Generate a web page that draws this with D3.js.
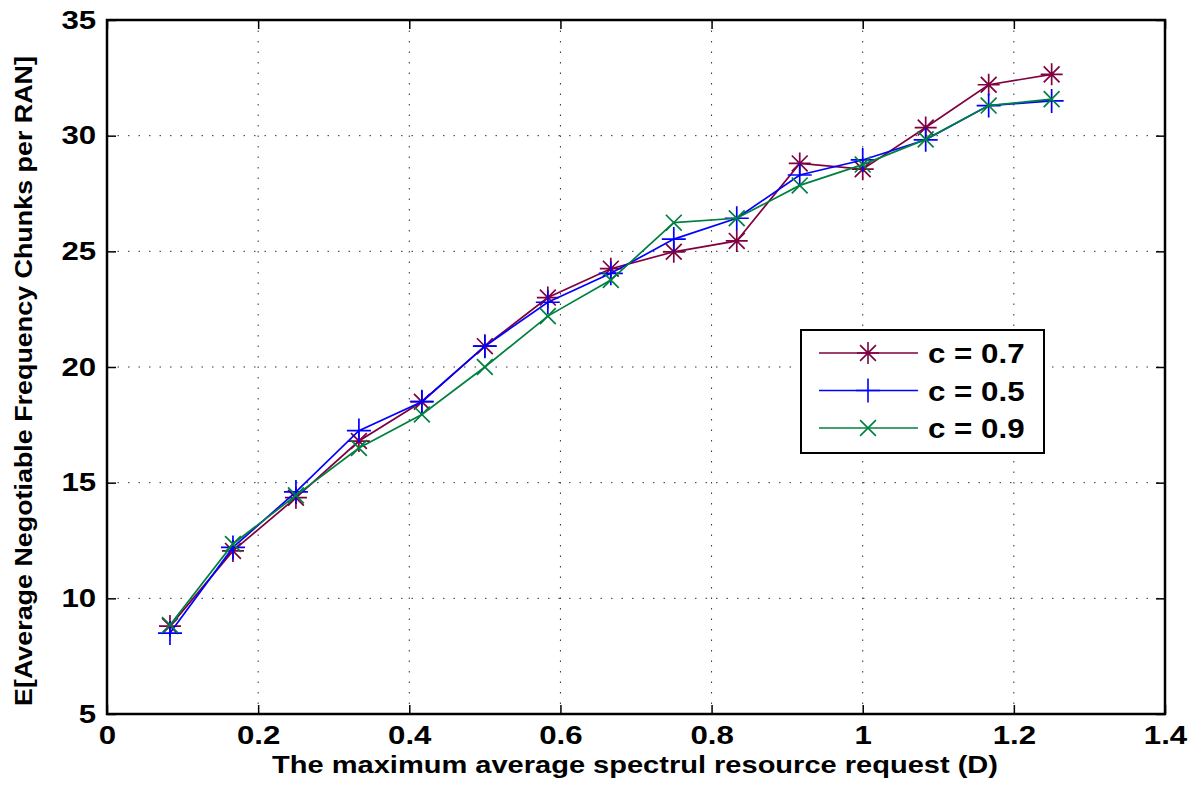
<!DOCTYPE html>
<html>
<head>
<meta charset="utf-8">
<script src="https://cdn.jsdelivr.net/npm/d3@7"></script>
<style>
  body { margin: 0; background: #fff; }
  svg { display: block; font-family: "Liberation Sans", Arial, sans-serif; }
</style>
</head>
<body>
<svg width="1191" height="786"></svg>
<script>
// data
const xVals = [1/12, 2/12, 3/12, 4/12, 5/12, 6/12, 7/12, 8/12, 9/12, 10/12, 11/12, 1, 13/12, 14/12, 15/12];
const c07 = [8.8, 12.05, 14.35, 16.8, 18.5, 20.9, 23.0, 24.25, 24.98, 25.45, 28.8, 28.55, 30.35, 32.2, 32.65];
const c05 = [8.5, 12.2, 14.6, 17.25, 18.5, 20.9, 22.8, 24.05, 25.53, 26.43, 28.3, 28.95, 29.82, 31.3, 31.5];
const c09 = [8.85, 12.35, 14.45, 16.5, 17.95, 20.0, 22.2, 23.76, 26.24, 26.43, 27.85, 28.75, 29.84, 31.3, 31.58];
const xTicks = [0, 0.2, 0.4, 0.6, 0.8, 1, 1.2, 1.4];
const yTicks = [5, 10, 15, 20, 25, 30, 35];

const series = [
  { name: "c = 0.7", values: c07, color: "#800040", marker: "star" },
  { name: "c = 0.5", values: c05, color: "#0000ff", marker: "plus" },
  { name: "c = 0.9", values: c09, color: "#008040", marker: "cross" }
];

const svg = d3.select("svg");
const pLeft = 107, pRight = 1165, pTop = 20, pBottom = 714;
const stretch = 1.2; // the original text looks widened

const x = d3.scaleLinear().domain([0, 1.4]).range([pLeft, pRight]);
const y = d3.scaleLinear().domain([5, 35]).range([pBottom, pTop]);

// grid
const grid = svg.append("g").attr("stroke", "#333").attr("stroke-width", 1)
  .attr("stroke-dasharray", "1.5,9");
grid.selectAll(".gx").data(xTicks.slice(1, -1)).enter().append("line")
  .attr("x1", d => x(d)).attr("x2", d => x(d)).attr("y1", pTop).attr("y2", pBottom);
grid.selectAll(".gy").data(yTicks.slice(1, -1)).enter().append("line")
  .attr("y1", d => y(d)).attr("y2", d => y(d)).attr("x1", pLeft).attr("x2", pRight);

// axes with inward ticks
const tickLen = 9;
const axisBottom = d3.axisBottom(x).tickValues(xTicks).tickSize(-tickLen).tickPadding(12)
  .tickFormat(d => d3.format("~g")(d));
const axisLeft = d3.axisLeft(y).tickValues(yTicks).tickSize(-tickLen).tickPadding(9);

const gx = svg.append("g").attr("transform", `translate(0,${pBottom})`).call(axisBottom);
const gy = svg.append("g").attr("transform", `translate(${pLeft},0)`).call(axisLeft);
svg.append("g").attr("transform", `translate(0,${pTop})`)
  .call(d3.axisTop(x).tickValues(xTicks).tickSize(-tickLen).tickFormat(""));
svg.append("g").attr("transform", `translate(${pRight},0)`)
  .call(d3.axisRight(y).tickValues(yTicks).tickSize(-tickLen).tickFormat(""));

svg.selectAll(".domain").remove();
svg.selectAll(".tick line").attr("stroke", "#000").attr("stroke-width", 1.5);
[gx, gy].forEach(g => g.selectAll("text")
  .attr("font-size", 26).attr("font-weight", "bold").attr("fill", "#000")
  .attr("font-family", "Liberation Sans, Arial, sans-serif")
  .attr("transform", `scale(${stretch},1)`));

svg.append("rect").attr("x", pLeft).attr("y", pTop)
  .attr("width", pRight - pLeft).attr("height", pBottom - pTop)
  .attr("fill", "none").attr("stroke", "#000").attr("stroke-width", 2.5);

// axis titles
svg.append("text").attr("transform", `translate(635,773) scale(1.21,1)`)
  .attr("text-anchor", "middle").attr("font-size", 24).attr("font-weight", "bold")
  .text("The maximum average spectrul resource request (D)");
svg.append("text").attr("transform", `translate(32,381) rotate(-90) scale(1.12,1)`)
  .attr("text-anchor", "middle").attr("font-size", 24).attr("font-weight", "bold")
  .text("E[Average Negotiable Frequency Chunks per RAN]");

// markers
function drawMarker(g, type, s) {
  const p = d3.path();
  if (type === "plus" || type === "star") {
    p.moveTo(-s, 0); p.lineTo(s, 0); p.moveTo(0, -s); p.lineTo(0, s);
  }
  if (type === "cross" || type === "star") {
    const k = s * 0.72;
    p.moveTo(-k, -k); p.lineTo(k, k); p.moveTo(-k, k); p.lineTo(k, -k);
  }
  g.append("path").attr("d", p.toString()).attr("fill", "none");
}
const markerSize = { star: 11, plus: 12, cross: 11 };

const line = d3.line().x((d, i) => x(xVals[i])).y(d => y(d));

series.forEach(s => {
  const g = svg.append("g").attr("stroke", s.color).attr("stroke-width", 1.7);
  g.append("path").datum(s.values).attr("d", line).attr("fill", "none");
  s.values.forEach((v, i) => {
    const m = g.append("g").attr("transform", `translate(${x(xVals[i])},${y(v)})`);
    drawMarker(m, s.marker, markerSize[s.marker]);
  });
});

// legend
const lg = svg.append("g");
lg.append("rect").attr("x", 801).attr("y", 330).attr("width", 243).attr("height", 123)
  .attr("fill", "#fff").attr("stroke", "#000").attr("stroke-width", 2);
series.forEach((s, i) => {
  const ly = 353 + i * 37.5;
  const g = lg.append("g").attr("stroke", s.color).attr("stroke-width", 1.6);
  g.append("line").attr("x1", 819).attr("x2", 918).attr("y1", ly).attr("y2", ly);
  drawMarker(g.append("g").attr("transform", `translate(868,${ly})`), s.marker, markerSize[s.marker]);
  lg.append("text").attr("transform", `translate(928,${ly + 10}) scale(1.16,1)`)
    .attr("font-size", 27).attr("font-weight", "bold").text(s.name);
});
</script>
</body>
</html>
